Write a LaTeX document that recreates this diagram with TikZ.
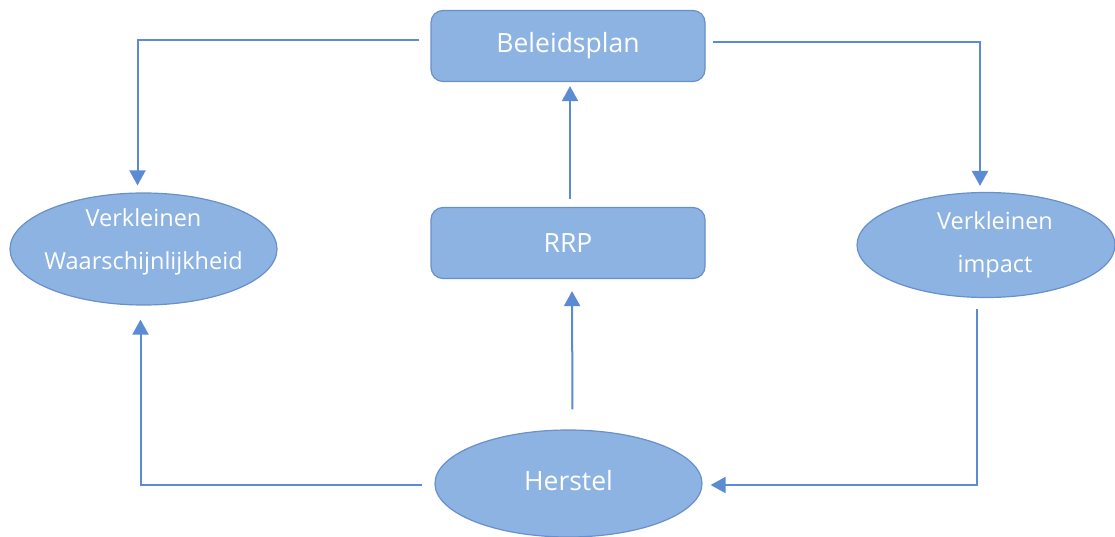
\documentclass[tikz,border=0pt]{standalone}
\usepackage{fontspec}
\setmainfont{Open Sans}
\usetikzlibrary{arrows.meta,shapes.geometric}

\definecolor{boxfill}{HTML}{8DB3E2}
\definecolor{boxline}{HTML}{6890CC}
\definecolor{flowline}{HTML}{5B8BD2}

\tikzset{
  plan/.style={draw=boxline, fill=boxfill, line width=1.2pt, rounded corners=12pt,
    minimum width=274pt, minimum height=71pt, text=white, font=\fontsize{26.5}{32}\selectfont},
  oval/.style={ellipse, draw=boxline, fill=boxfill, line width=1.2pt, inner sep=0pt},
  ovaltext/.style={text=white, align=center, font=\fontsize{23.5}{43}\selectfont},
  flow/.style={draw=flowline, line width=2pt, -{Triangle[width=16pt,length=15pt]}},
}

\begin{document}
\begin{tikzpicture}[x=1pt, y=-1pt]
    \useasboundingbox (0,0) rectangle (1115,537);

    % boxes and ovals
    \node[plan] (bp) at (568,46) {Beleidsplan};
    \node[plan] (rrp) at (568,243) {RRP};
    \node[oval, minimum width=267pt, minimum height=112pt] (vw) at (143.5,249) {};
    \node[oval, minimum width=258pt, minimum height=105pt] (vi) at (986,245) {};
    \node[oval, minimum width=267pt, minimum height=107pt] (hs) at (568.5,483.5) {};

    \node[ovaltext] (vw-txt) at ([yshift=7pt]vw.center) {Verkleinen\\Waarschijnlijkheid};
    \node[ovaltext] (vi-txt) at ([xshift=9pt]vi.center) {Verkleinen\\impact};
    \node[ovaltext, font=\fontsize{26.5}{32}\selectfont] (hs-txt) at ([yshift=3pt]hs.center) {Herstel};

    % connectors
    \draw[flow, shorten <=11pt, shorten >=7pt] ([yshift=6pt]bp.west) -| ([xshift=-6pt]vw.north);
    \draw[flow, shorten <=7pt, shorten >=6pt] ([yshift=4pt]bp.east) -| ([xshift=-6pt]vi.north);
    \draw[flow, shorten <=8pt, shorten >=4pt] ([xshift=2pt]rrp.north) -- ([xshift=2pt]bp.south);
    \draw[flow, shorten <=20pt, shorten >=12pt] ([xshift=4pt]hs.north) -- ([xshift=4pt]rrp.south);
    \draw[flow, shorten <=12pt, shorten >=14pt] ([yshift=-1.5pt]hs.west) -| ([xshift=-3pt]vw.south);
    \draw[flow, shorten <=11pt, shorten >=8pt] ([xshift=-9pt]vi.south) |- ([yshift=-1.5pt]hs.east);
\end{tikzpicture}
\end{document}
